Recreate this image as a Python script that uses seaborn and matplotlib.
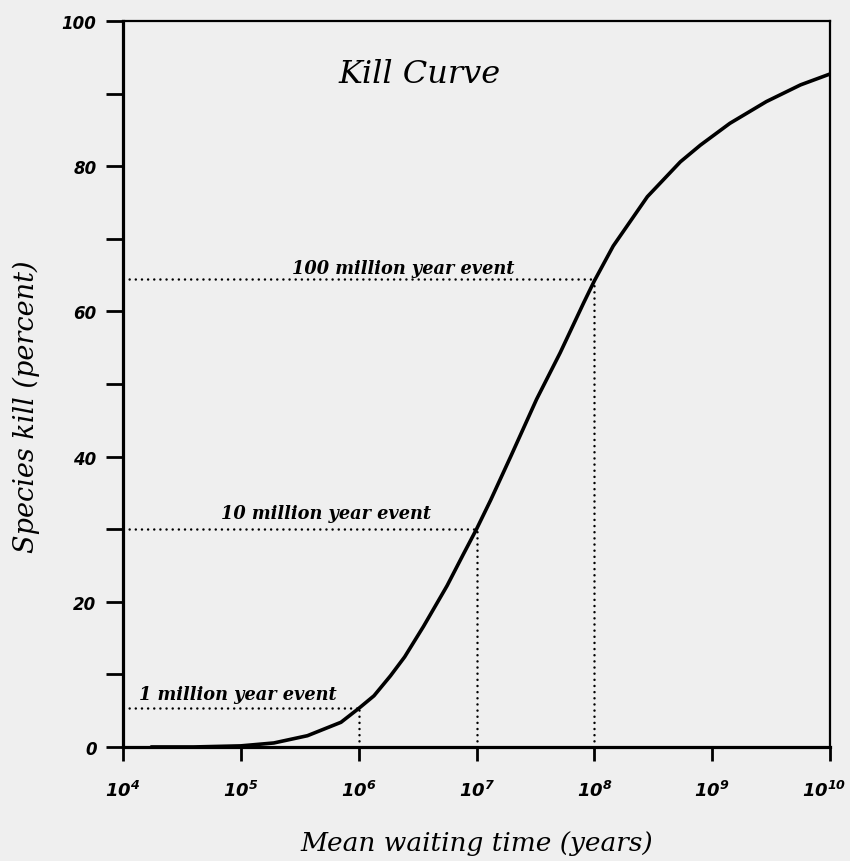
import numpy as np
import pandas as pd
import matplotlib
matplotlib.use("Agg")
import matplotlib.pyplot as plt
import matplotlib.transforms as mtransforms
import seaborn as sns

# ---- data ----
wait_exponent = [4.24, 4.6, 5.0, 5.28, 5.565, 5.85, 6.0, 6.13, 6.27, 6.39, 6.55,
                 6.75, 6.89, 7.0, 7.12, 7.29, 7.51, 7.71, 7.91, 8.0, 8.16, 8.45,
                 8.73, 8.9, 9.15, 9.46, 9.75, 10.0]
kill_percent = [0.0, 0.0, 0.15, 0.55, 1.55, 3.4, 5.3, 7.05, 9.8, 12.4, 16.6,
                22.2, 26.6, 30.0, 34.0, 40.0, 47.9, 54.3, 61.2, 64.2, 69.0, 75.8,
                80.6, 82.9, 85.9, 88.9, 91.2, 92.7]

event_labels = ["1 million year event", "10 million year event", "100 million year event"]
event_exponent = [6, 7, 8]
event_kill = [5.4, 30.0, 64.5]

x_tick_exponents = [4, 5, 6, 7, 8, 9, 10]
y_major_ticks = [0, 20, 40, 60, 80, 100]
y_minor_ticks = [10, 30, 50, 70, 90]

df = pd.DataFrame({"years": [10.0 ** e for e in wait_exponent], "kill": kill_percent})

sns.set_theme(style="ticks")
plt.rcParams["mathtext.fontset"] = "custom"
plt.rcParams["mathtext.rm"] = "DejaVu Sans:italic:bold"
plt.rcParams["mathtext.it"] = "DejaVu Sans:italic:bold"
plt.rcParams["mathtext.bf"] = "DejaVu Sans:italic:bold"
plt.rcParams["text.color"] = "black"
plt.rcParams["axes.labelcolor"] = "black"

bg = "#efefef"
fig = plt.figure(figsize=(8.5, 8.62), dpi=100, facecolor=bg)
ax = fig.add_axes([0.1447, 0.1323, 0.8318, 0.8422])
ax.set_facecolor(bg)

ax.set_xscale("log")
sns.lineplot(data=df, x="years", y="kill", ax=ax, color="black", linewidth=2.6)
for ln in ax.get_lines():
    ln.set_solid_joinstyle("round")
    ln.set_solid_capstyle("round")

dot_kw = dict(color="black", linewidth=1.8, linestyle=(0, (0.01, 2.45)),
              dash_capstyle="round")
for lab, e, k in zip(event_labels, event_exponent, event_kill):
    xv = 10.0 ** e
    ax.plot([10.0 ** 4, xv], [k, k], **dot_kw)
    ax.plot([xv, xv], [0, k], **dot_kw)

# event labels (x centre exponent, baseline y)
label_pos = {6: (10 ** 4.975, 6.6), 7: (10 ** 5.72, 31.6), 8: (10 ** 6.38, 65.3)}
for lab, e in zip(event_labels, event_exponent):
    x, y = label_pos[e]
    ax.text(x, y, lab, ha="center", va="baseline", fontsize=12.8,
            family="DejaVu Serif", style="italic", weight="bold", color="black")

ax.text(0.419, 0.927, "Kill Curve", transform=ax.transAxes, ha="center",
        va="center", fontsize=23, family="DejaVu Serif", style="italic",
        color="black")

ax.set_xlim(10.0 ** 4, 10.0 ** 10)
ax.set_ylim(0, 100)

ax.set_xticks([10.0 ** e for e in x_tick_exponents])
ax.set_xticklabels([r"$\mathrm{10^{%d}}$" % e for e in x_tick_exponents])
ax.xaxis.set_minor_locator(matplotlib.ticker.NullLocator())
ax.set_yticks(y_major_ticks)
ax.set_yticks(y_minor_ticks, minor=True)
ax.set_yticklabels([str(v) for v in y_major_ticks])

ax.tick_params(axis="x", which="major", direction="out", length=10, width=2,
               pad=14, labelsize=13, colors="black")
ax.tick_params(axis="y", which="major", direction="out", length=12, width=2,
               pad=7, labelsize=12, colors="black")
ax.tick_params(axis="y", which="minor", direction="out", length=12, width=2,
               colors="black")
for lab in ax.get_yticklabels():
    lab.set_fontstyle("italic")
    lab.set_fontweight("bold")

# keep the last x label inside the figure
last = ax.get_xticklabels()[-1]
last.set_transform(last.get_transform() +
                   mtransforms.ScaledTranslation(-6 / 100, 0, fig.dpi_scale_trans))

for side in ["left", "bottom"]:
    ax.spines[side].set_linewidth(2.3)
for side in ["top", "right"]:
    ax.spines[side].set_linewidth(1.6)
    ax.spines[side].set_visible(True)
for s in ax.spines.values():
    s.set_color("black")

ax.set_xlabel("Mean waiting time (years)", fontsize=19, family="DejaVu Serif",
              style="italic", color="black")
ax.set_ylabel("Species kill (percent)", fontsize=19.5, family="DejaVu Serif",
              style="italic", color="black")
ax.xaxis.set_label_coords(0.5, (748 - 831) / 726)
ax.yaxis.set_label_coords((40 - 123) / 707, (748 - 407) / 726)

fig.savefig("out.png", dpi=100, facecolor=bg)
